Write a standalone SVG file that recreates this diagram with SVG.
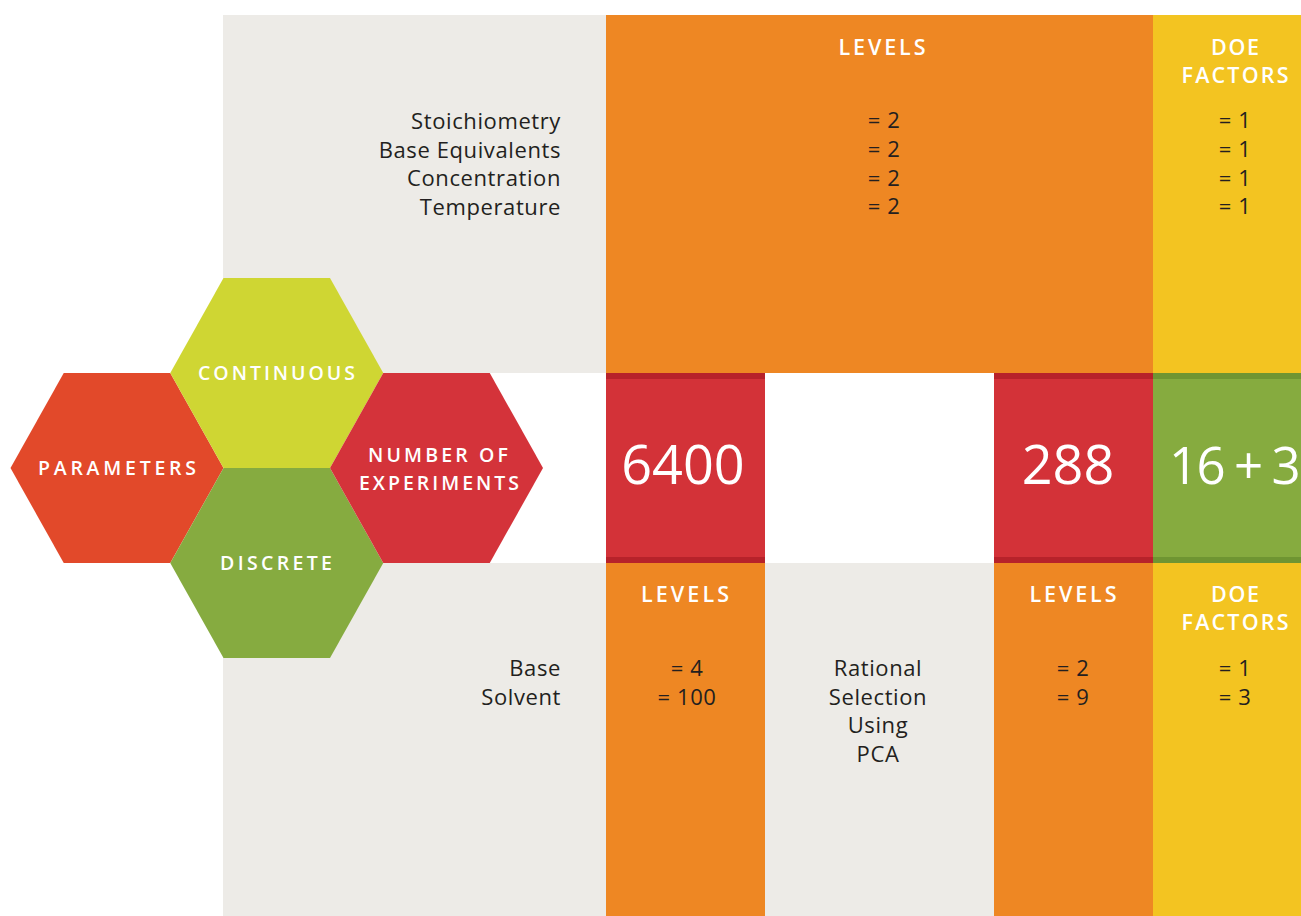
<svg xmlns="http://www.w3.org/2000/svg" xmlns:xlink="http://www.w3.org/1999/xlink" width="1301" height="916" viewBox="0 0 1301 916">
  <defs>
    <style>
      .gray { fill: #EDEBE7; }
      .orange { fill: #EE8723; }
      .yellow { fill: #F3C421; }
      .red { fill: #D33238; }
      .red-edge { fill: #B7222A; }
      .green { fill: #86AB3F; }
      .green-edge { fill: #6F9532; }
      .body { font-family: "Open Sans", "Noto Sans", sans-serif; font-size: 22px; fill: #231F20; letter-spacing: 0.6px; }
      .head { font-family: "Open Sans", "Noto Sans", sans-serif; font-size: 21.5px; font-weight: 600; fill: #FFFFFF; text-anchor: middle; }
      .hexlabel { font-family: "Open Sans", "Noto Sans", sans-serif; font-size: 19.5px; font-weight: 600; fill: #FFFFFF; text-anchor: middle; }
      .big { font-family: "Open Sans", "Noto Sans", sans-serif; font-size: 54px; fill: #FFFFFF; text-anchor: middle; }
      .sum { font-size: 51px; letter-spacing: -1.5px; word-spacing: -2px; }
      .mid { text-anchor: middle; }
      .end { text-anchor: end; }
    </style>
    <!-- flat-topped hexagon centred on the origin -->
    <polygon id="hex" points="-106.5,0 -53.25,-95 53.25,-95 106.5,0 53.25,95 -53.25,95"/>
  </defs>

  <rect width="1301" height="916" fill="#FFFFFF"/>

  <!-- background panels -->
  <g id="panels">
    <rect class="gray" x="223" y="15" width="383" height="358"/>
    <rect class="gray" x="223" y="563" width="383" height="353"/>
    <rect class="orange" x="606" y="15" width="547" height="358"/>
    <rect class="yellow" x="1153" y="15" width="148" height="358"/>
    <rect class="orange" x="606" y="563" width="159" height="353"/>
    <rect class="gray" x="765" y="563" width="229" height="353"/>
    <rect class="orange" x="994" y="563" width="159" height="353"/>
    <rect class="yellow" x="1153" y="563" width="148" height="353"/>
  </g>

  <!-- continuous parameters -->
  <g id="continuous-list">
    <text class="body end" x="561" y="129">Stoichiometry</text>
    <text class="body end" x="561" y="157.5">Base Equivalents</text>
    <text class="body end" x="561" y="186">Concentration</text>
    <text class="body end" x="561" y="214.5">Temperature</text>
  </g>
  <g id="continuous-levels">
    <text class="head" x="882" y="55" textLength="87">LEVELS</text>
    <text class="body mid" x="884" y="128">= 2</text>
    <text class="body mid" x="884" y="157">= 2</text>
    <text class="body mid" x="884" y="185.5">= 2</text>
    <text class="body mid" x="884" y="214">= 2</text>
  </g>
  <g id="continuous-factors">
    <text class="head" x="1235" y="55" textLength="48">DOE</text>
    <text class="head" x="1235" y="83" textLength="107">FACTORS</text>
    <text class="body mid" x="1235" y="128">= 1</text>
    <text class="body mid" x="1235" y="157">= 1</text>
    <text class="body mid" x="1235" y="185.5">= 1</text>
    <text class="body mid" x="1235" y="214">= 1</text>
  </g>

  <!-- experiment counts -->
  <g id="count-full">
    <rect class="red" x="606" y="373" width="159" height="190"/>
    <rect class="red-edge" x="606" y="373" width="159" height="6"/>
    <rect class="red-edge" x="606" y="557" width="159" height="6"/>
    <text class="big" x="683" y="484">6400</text>
  </g>
  <g id="count-reduced">
    <rect class="red" x="994" y="373" width="159" height="190"/>
    <rect class="red-edge" x="994" y="373" width="159" height="6"/>
    <rect class="red-edge" x="994" y="557" width="159" height="6"/>
    <text class="big" x="1068" y="484">288</text>
  </g>
  <g id="count-doe">
    <rect class="green" x="1153" y="373" width="148" height="190"/>
    <rect class="green-edge" x="1153" y="373" width="148" height="6"/>
    <rect class="green-edge" x="1153" y="557" width="148" height="6"/>
    <text class="big sum" x="1234" y="484">16 + 3</text>
  </g>

  <!-- discrete parameters -->
  <g id="discrete-list">
    <text class="body end" x="561" y="676">Base</text>
    <text class="body end" x="561" y="704.5">Solvent</text>
  </g>
  <g id="discrete-levels">
    <text class="head" x="685" y="602" textLength="88">LEVELS</text>
    <text class="body mid" x="687" y="676">= 4</text>
    <text class="body mid" x="687" y="704.5">= 100</text>
  </g>
  <g id="pca-selection">
    <text class="body mid" x="878" y="676">Rational</text>
    <text class="body mid" x="878" y="704.5">Selection</text>
    <text class="body mid" x="878" y="733">Using</text>
    <text class="body mid" x="878" y="761.5">PCA</text>
  </g>
  <g id="reduced-levels">
    <text class="head" x="1073" y="602" textLength="87">LEVELS</text>
    <text class="body mid" x="1073" y="676">= 2</text>
    <text class="body mid" x="1073" y="704.5">= 9</text>
  </g>
  <g id="discrete-factors">
    <text class="head" x="1235" y="602" textLength="48">DOE</text>
    <text class="head" x="1235" y="630" textLength="107">FACTORS</text>
    <text class="body mid" x="1235" y="676">= 1</text>
    <text class="body mid" x="1235" y="704.5">= 3</text>
  </g>

  <!-- honeycomb legend -->
  <g id="hex-parameters">
    <use xlink:href="#hex" href="#hex" x="117" y="468" fill="#E2492A"/>
    <text class="hexlabel" x="117" y="475" textLength="158">PARAMETERS</text>
  </g>
  <g id="hex-continuous">
    <use xlink:href="#hex" href="#hex" x="276.75" y="373" fill="#CFD633"/>
    <text class="hexlabel" x="276.5" y="380" textLength="157">CONTINUOUS</text>
  </g>
  <g id="hex-discrete">
    <use xlink:href="#hex" href="#hex" x="276.75" y="563" fill="#86AB40"/>
    <text class="hexlabel" x="276" y="570" textLength="112">DISCRETE</text>
  </g>
  <g id="hex-experiments">
    <use xlink:href="#hex" href="#hex" x="436.5" y="468" fill="#D4333A"/>
    <text class="hexlabel" x="438" y="462" textLength="140">NUMBER OF</text>
    <text class="hexlabel" x="439" y="490" textLength="160">EXPERIMENTS</text>
  </g>
</svg>
